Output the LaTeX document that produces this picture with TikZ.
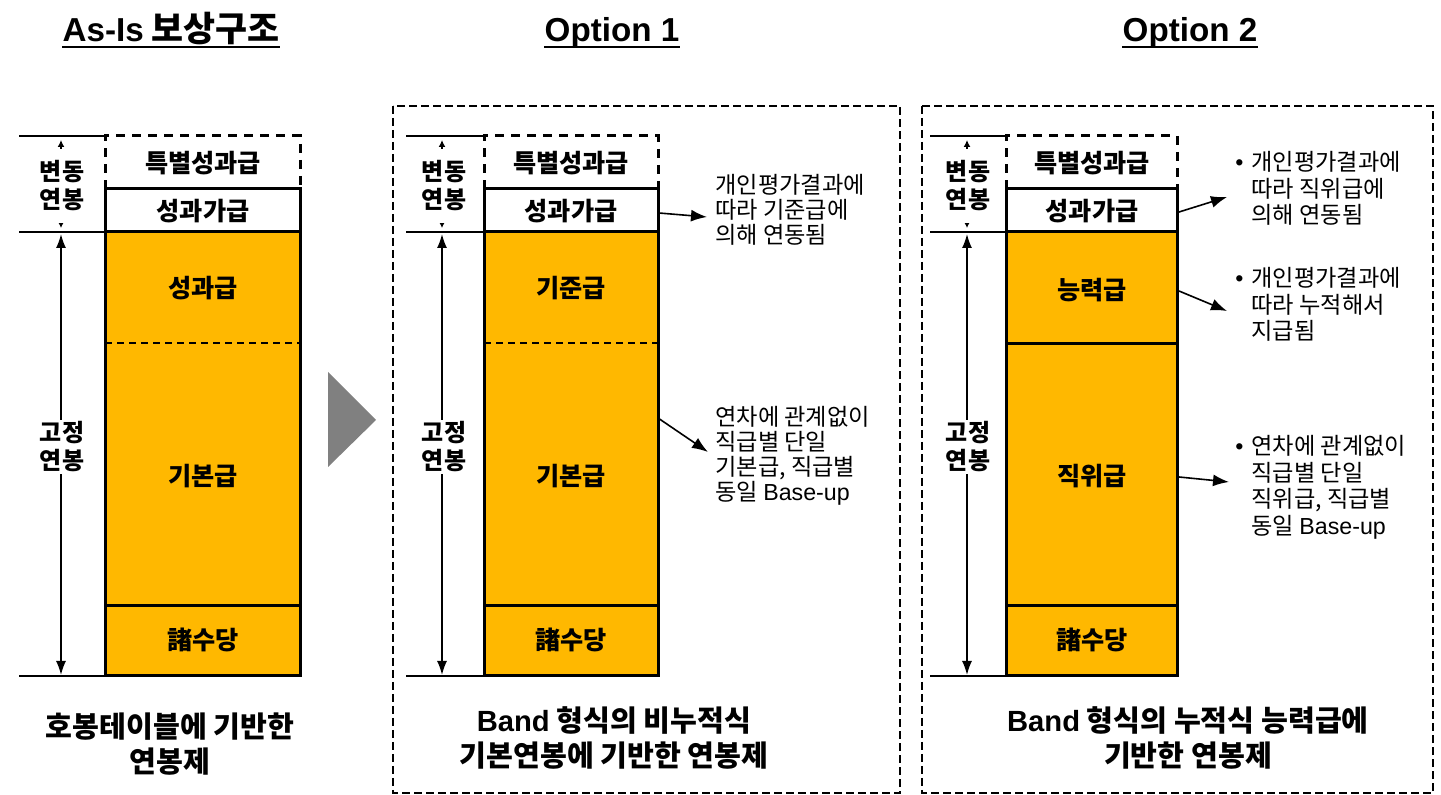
\documentclass[tikz,border=0pt]{standalone}
\usepackage{fontspec}
\setmainfont{Noto Sans CJK KR}
\newfontfamily\lat{Liberation Sans}
\usetikzlibrary{arrows.meta}
\definecolor{gold}{HTML}{FFB800}
\definecolor{tri}{HTML}{808080}
\begin{document}
\begin{tikzpicture}[x=0.5pt,y=-0.5pt,
  boxline/.style={line width=1.5pt},
  dashbox/.style={line width=1.5pt,dash pattern=on 4.5pt off 3.5pt},
  midline/.style={line width=1pt,dash pattern=on 3.5pt off 2.5pt},
  outerbox/.style={line width=0.8pt,dash pattern=on 4pt off 2pt},
  axisline/.style={line width=0.8pt},
  fixarrow/.style={line width=0.8pt,{Latex[length=7pt,width=5pt]}-{Latex[length=7pt,width=5pt]}},
  vararrow/.style={line width=0.8pt,{Latex[length=3.5pt,width=3.5pt]}-{Latex[length=2.5pt,width=2.5pt]}},
  notearrow/.style={line width=0.8pt,-{Latex[length=8pt,width=6pt]}},
  lab/.style={font=\fontsize{12.6}{15}\selectfont\bfseries, inner sep=0pt},
  side/.style={font=\fontsize{12}{14}\selectfont\bfseries, align=center, fill=white, inner sep=1pt},
  vside/.style={side, minimum height=37pt},
  note/.style={font=\fontsize{11.6}{12.5}\selectfont, align=left, anchor=north west, inner sep=0pt},
  title/.style={font=\fontsize{16.6}{19}\selectfont\bfseries, inner sep=0pt, anchor=base},
  bottom/.style={font=\fontsize{14.6}{17.5}\selectfont\bfseries, align=center, inner sep=0pt}
]
\useasboundingbox (0,0) rectangle (1441,795);

% ---------- titles ----------
\node[title] (t0) at (171,42) {{\lat As-Is} {\fontsize{17.4}{19}\selectfont 보상구조}};
\node[title, font=\lat\fontsize{16.6}{19}\selectfont\bfseries] (t1) at (612,42) {Option 1};
\node[title, font=\lat\fontsize{16.6}{19}\selectfont\bfseries] (t2) at (1190,42) {Option 2};
\foreach \t in {t0,t1,t2}{
  \draw[line width=1.1pt] ([yshift=-2.6pt]\t.base west) -- ([yshift=-2.6pt]\t.base east);
}

% ---------- outer dashed boxes ----------
\draw[outerbox] (393,106) rectangle (900,793);
\draw[outerbox] (922,106) rectangle (1433,793);

% ---------- gray triangle ----------
\fill[tri] (328,372) -- (376,420) -- (328,467) -- cycle;

% ---------- stacks ----------
% As-Is
\fill[gold] (105,232) rectangle (300,676);
\draw[dashbox] (105,189) -- (105,136) -- (300,136) -- (300,189);
\draw[boxline] (105,189) rectangle (300,232);
\draw[boxline] (105,232) rectangle (300,676);
\draw[boxline] (105,606) -- (300,606);
\draw[midline] (105,343) -- (300,343);
% Option 1
\fill[gold] (484,232) rectangle (658,676);
\draw[dashbox] (484,189) -- (484,136) -- (658,136) -- (658,189);
\draw[boxline] (484,189) rectangle (658,232);
\draw[boxline] (484,232) rectangle (658,676);
\draw[boxline] (484,606) -- (658,606);
\draw[midline] (484,343) -- (658,343);
% Option 2
\fill[gold] (1006,232) rectangle (1177,676);
\draw[dashbox] (1006,189) -- (1006,136) -- (1177,136) -- (1177,189);
\draw[boxline] (1006,189) rectangle (1177,232);
\draw[boxline] (1006,232) rectangle (1177,676);
\draw[boxline] (1006,606) -- (1177,606);
\draw[boxline] (1006,344) -- (1177,344);

% ---------- axis lines ----------
\draw[axisline] (19,136) -- (105,136);
\draw[axisline] (19,232) -- (105,232);
\draw[axisline] (19,676) -- (105,676);
\draw[axisline] (406,136) -- (484,136);
\draw[axisline] (406,232) -- (484,232);
\draw[axisline] (406,676) -- (484,676);
\draw[axisline] (930,136) -- (1006,136);
\draw[axisline] (930,232) -- (1006,232);
\draw[axisline] (930,676) -- (1006,676);

% ---------- axis arrows ----------
\coordinate (v0a) at (61,140);  \coordinate (v0b) at (61,228);
\coordinate (f0a) at (61,234);  \coordinate (f0b) at (61,675);
\coordinate (v1a) at (442,140); \coordinate (v1b) at (442,228);
\coordinate (f1a) at (442,234); \coordinate (f1b) at (442,675);
\coordinate (v2a) at (967,140); \coordinate (v2b) at (967,228);
\coordinate (f2a) at (967,234); \coordinate (f2b) at (967,675);
\draw[vararrow] (v0a) -- (v0b);
\draw[fixarrow] (f0a) -- (f0b);
\draw[vararrow] (v1a) -- (v1b);
\draw[fixarrow] (f1a) -- (f1b);
\draw[vararrow] (v2a) -- (v2b);
\draw[fixarrow] (f2a) -- (f2b);

\node[vside] (s0v) at (62,186) {변동\\연봉};
\node[side] (s0f) at (62,447) {고정\\연봉};
\node[vside] (s1v) at (444,186) {변동\\연봉};
\node[side] (s1f) at (444,447) {고정\\연봉};
\node[vside] (s2v) at (968,186) {변동\\연봉};
\node[side] (s2f) at (968,447) {고정\\연봉};

% ---------- box labels ----------
\node[lab] (a1) at (203,163) {특별성과급};
\node[lab] (a2) at (203,211) {성과가급};
\node[lab] (a3) at (203,288) {성과급};
\node[lab] (a4) at (203,476) {기본급};
\node[lab] (a5) at (203,640) {諸수당};

\node[lab] (b1) at (571,163) {특별성과급};
\node[lab] (b2) at (571,211) {성과가급};
\node[lab] (b3) at (571,288) {기준급};
\node[lab] (b4) at (571,476) {기본급};
\node[lab] (b5) at (571,640) {諸수당};

\node[lab] (c1) at (1092,163) {특별성과급};
\node[lab] (c2) at (1092,211) {성과가급};
\node[lab] (c3) at (1092,290) {능력급};
\node[lab] (c4) at (1092,476) {직위급};
\node[lab] (c5) at (1092,640) {諸수당};

% ---------- notes ----------
\node[note] (n1) at (715,174) {개인평가결과에\\따라 기준급에\\의해 연동됨};
\node[note] (n2) at (715,406) {연차에 관계없이\\직급별 단일\\기본급, 직급별\\동일 {\lat Base-up}};

\node[note] (m1) at (1235,151) {\begin{tabular}{@{}l@{\hskip 4pt}l@{}}{\lat\textbullet} & 개인평가결과에\\ & 따라 직위급에\\ & 의해 연동됨\end{tabular}};
\node[note] (m2) at (1235,267) {\begin{tabular}{@{}l@{\hskip 4pt}l@{}}{\lat\textbullet} & 개인평가결과에\\ & 따라 누적해서\\ & 지급됨\end{tabular}};
\node[note] (m3) at (1235,435) {\begin{tabular}{@{}l@{\hskip 4pt}l@{}}{\lat\textbullet} & 연차에 관계없이\\ & 직급별 단일\\ & 직위급, 직급별\\ & 동일 {\lat Base-up}\end{tabular}};

\coordinate (p1) at (659,213);
\coordinate (p2) at (658,418);
\coordinate (q1) at (1179,212);
\coordinate (q2) at (1179,291);
\coordinate (q3) at (1179,477);
\draw[notearrow] (p1) -- (707,217);
\draw[notearrow] (p2) -- (708,452);
\draw[notearrow] (q1) -- (1227,197);
\draw[notearrow] (q2) -- (1227,311);
\draw[notearrow] (q3) -- (1229,482);

% ---------- bottom captions ----------
\node[bottom] (d0) at (170,744) {호봉테이블에 기반한\\연봉제};
\node[bottom] (d1) at (614,738) {{\lat Band} 형식의 비누적식\\기본연봉에 기반한 연봉제};
\node[bottom] (d2) at (1188,738) {{\lat Band} 형식의 누적식 능력급에\\기반한 연봉제};
\end{tikzpicture}
\end{document}
